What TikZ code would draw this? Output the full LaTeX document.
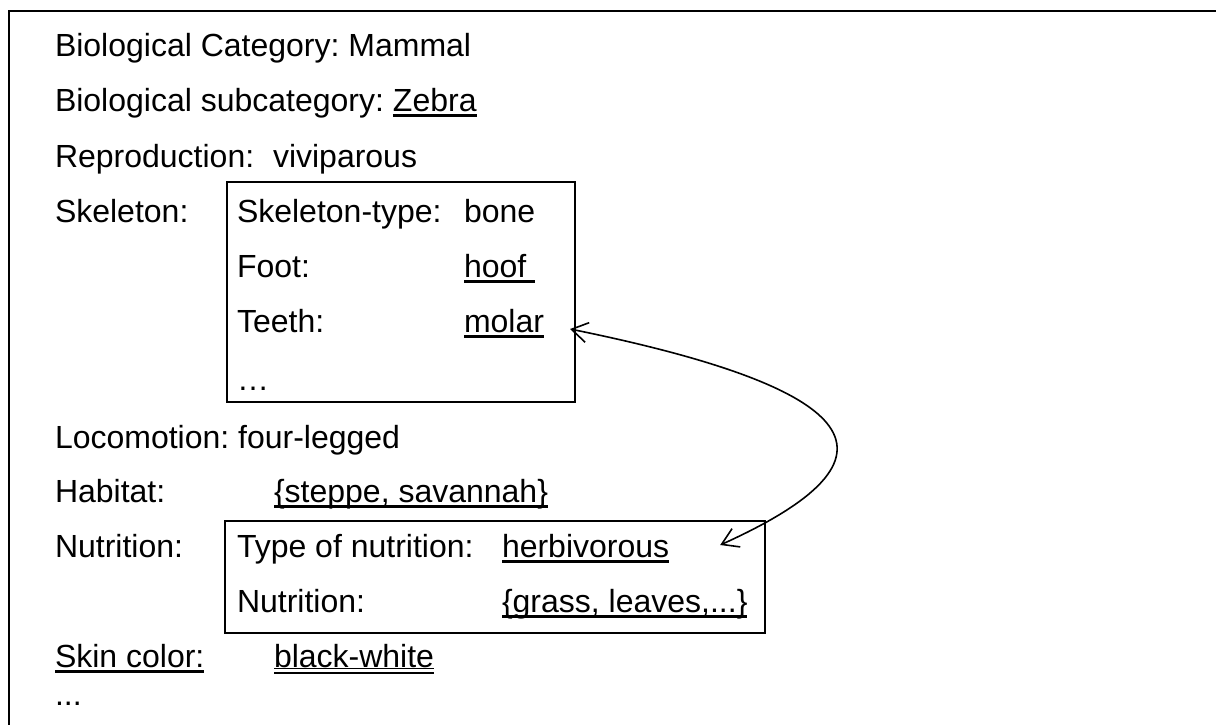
\documentclass[tikz,border=0pt]{standalone}
\usepackage{fontspec}
\setmainfont{Liberation Sans}
\usetikzlibrary{arrows.meta}
\newcommand{\uln}[1]{\setbox0\hbox{#1}\rlap{\vrule height -1.25pt depth 2.75pt width \wd0}\box0}
\newcommand{\uuln}[1]{\setbox0\hbox{#1}\rlap{\vrule height -0.4pt depth 1.2pt width \wd0}\rlap{\vrule height -2.6pt depth 3.4pt width \wd0}\box0}
\begin{document}
\begin{tikzpicture}[x=0.5pt,y=-0.5pt,line width=1pt]
        \useasboundingbox (0,0) rectangle (1216,724);
        \clip (0,0) rectangle (1216,724);
        \fontsize{16}{19}\selectfont\frenchspacing
        % frame and the two sub-boxes
        \draw (9,11) rectangle (1240,740);
        \draw (227,182) rectangle (575,402);
        \draw (225,521) rectangle (765,633);
        \begin{scope}[every node/.style={inner sep=0pt,anchor=base west}]
            \node (cat) at (54,56) {Biological Category: Mammal};
            \node (sub) at (54,111) {Biological subcategory: \uln{Zebra}};
            \node (rep) at (54,167) {Reproduction:};
            \node (repv) at (272,167) {viviparous};
            \node (skel) at (54,222) {Skeleton:};
            \node (stype) at (236,222) {Skeleton-type:};
            \node (bone) at (463,222) {bone};
            \node (foot) at (236,277) {Foot:};
            \node (hoof) at (463,277) {\uln{hoof~}};
            \node (teeth) at (236,332) {Teeth:};
            \node (molar) at (463,332) {\uln{molar}};
            \node (sdots) at (236,390) {…};
            \node (loc) at (54,448) {Locomotion: four-legged};
            \node (hab) at (54,502) {Habitat:};
            \node (habv) at (273,502) {\uln{\{steppe, savannah\}}};
            \node (nut) at (54,557) {Nutrition:};
            \node (ntype) at (236,557) {Type of nutrition:};
            \node (herb) at (501,557) {\uln{herbivorous}};
            \node (nfood) at (236,612) {Nutrition:};
            \node (grass) at (501,612) {\uln{\{grass, leaves,...\}}};
            \node (skin) at (54,667) {\uln{Skin color:}};
            \node (skinv) at (273,667) {\uuln{black-white}};
            \node (dots) at (54,705) {...};
        \end{scope}
        \draw[line width=0.8pt,{Straight Barb[length=8pt,width=10pt]}-{Straight Barb[length=8pt,width=10pt]}]
            ([shift={(25,-3)}]molar.base east) .. controls +(295,60) and +(195,-88) .. ([shift={(50,-12)}]herb.base east);
    \end{tikzpicture}
\end{document}
